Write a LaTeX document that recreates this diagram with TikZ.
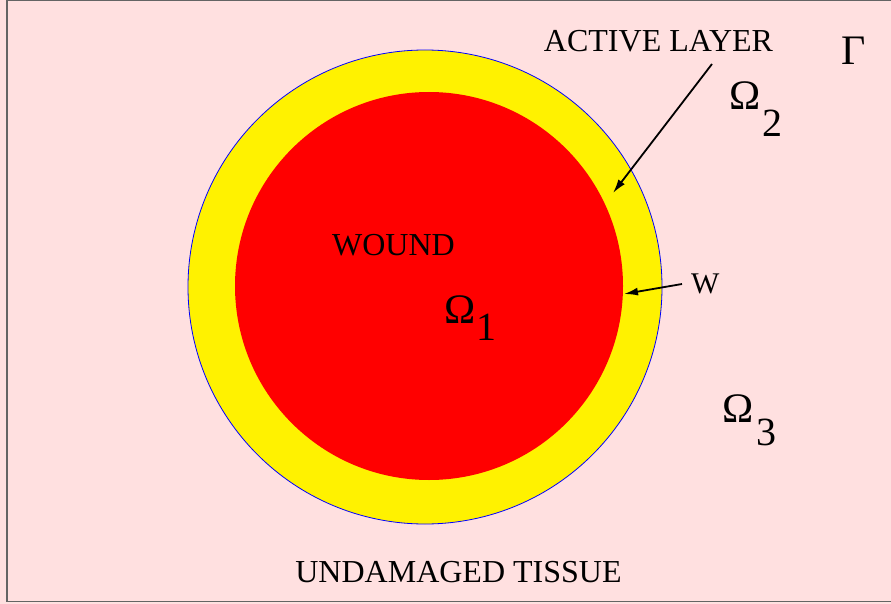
\documentclass[tikz,border=0pt]{standalone}
\usepackage{fontspec}
\setmainfont{Liberation Serif}
\usetikzlibrary{arrows.meta}
\definecolor{bgpink}{RGB}{255,224,224}
\definecolor{framegray}{RGB}{100,100,100}
\begin{document}
\begin{tikzpicture}[x=1pt,y=-1pt,
  lbl/.style={inner sep=0pt,anchor=base,font=\fontsize{32}{36}\selectfont},
  sym/.style={inner sep=0pt,anchor=base west,font=\fontsize{42}{46}\selectfont},
  digit/.style={inner sep=0pt,anchor=base west,font=\fontsize{40}{44}\selectfont},
  pointer/.style={line width=1.8pt,-{Latex[length=14pt,width=8pt]}}]
\useasboundingbox (0,0) rectangle (891,604);
\clip (0,0) rectangle (891,604);
\fill[bgpink] (0,0) rectangle (891,604);
\draw[framegray,line width=1.6pt] (7,0.5) -- (7,601.5) -- (900,601.5);
\draw[framegray,line width=1.2pt] (7,0.5) -- (900,0.5);
% regions
\fill[yellow] (425,287) circle (237);
\draw[blue,line width=0.8pt] (425,287) circle (237);
\fill[red] (429,286) circle (194);
% labels
\node[lbl] (active) at (658.5,52) {ACTIVE LAYER};
\node[lbl] (wound) at (393.5,255) {WOUND};
\node[lbl] (tissue) at (458.5,582) {UNDAMAGED TISSUE};
\node[lbl,font=\fontsize{30}{34}\selectfont,anchor=base west] (w) at (691,293) {W};
\node[sym] (gamma) at (841,65) {Γ};
\node[sym] (om1) at (444,323) {Ω};
\node[digit] (sub1) at (476,340) {1};
\node[sym] (om2) at (729,110) {Ω};
\node[digit] (sub2) at (762,137) {2};
\node[sym] (om3) at (722,422) {Ω};
\node[digit] (sub3) at (756,445) {3};
% arrows
\coordinate (a1) at (712,64);
\coordinate (t1) at (613,193);
\coordinate (a2) at (682,284);
\coordinate (t2) at (624,294);
\draw[pointer] (a1) -- (t1);
\draw[pointer] (a2) -- (t2);
\end{tikzpicture}
\end{document}
